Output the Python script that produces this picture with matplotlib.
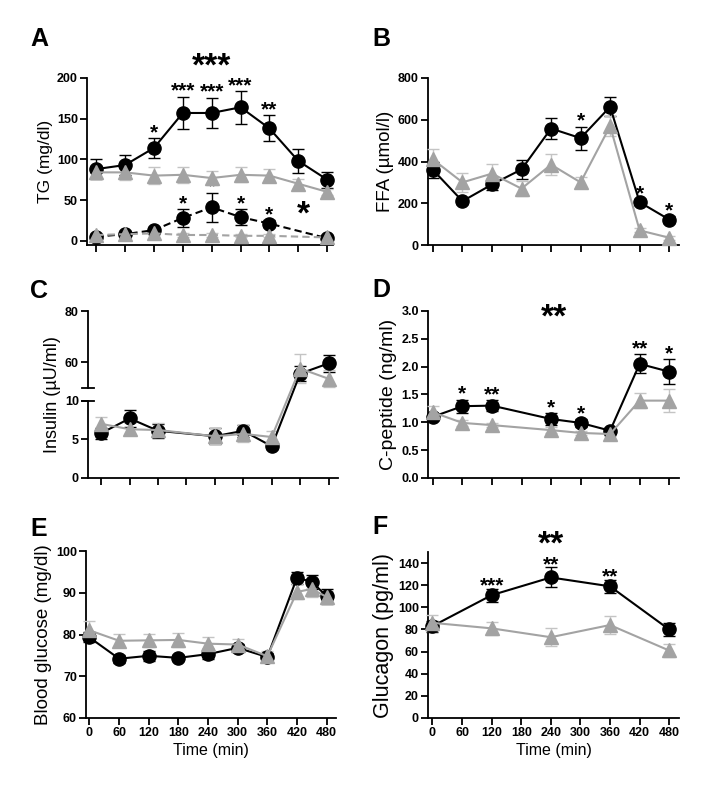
import numpy as np
import matplotlib
matplotlib.use("Agg")
import matplotlib.pyplot as plt

plt.rcParams['font.family'] = ['Liberation Sans', 'DejaVu Sans']

# ---- data ----
# A: TG, solid = total, dashed = second fraction
tg_t = [0, 60, 120, 180, 240, 300, 360, 420, 480]
tg_blk = [88, 93, 114, 157, 157, 164, 138, 98, 75]
tg_blk_err = [12, 12, 12, 20, 19, 20, 16, 15, 10]
tg_gry = [84, 84, 80, 81, 77, 81, 80, 70, 60]
tg_gry_err = [8, 10, 10, 10, 9, 9, 8, 6, 4]
tgd_t = [0, 60, 120, 180, 240, 300, 360, 480]
tgd_blk = [5, 8, 13, 28, 41, 29, 21, 3]
tgd_blk_err = [2, 2, 3, 11, 18, 10, 4, 2]
tgd_gry = [7, 8, 9, 7, 7, 6, 6, 4]
tgd_gry_err = [2, 2, 2, 2, 2, 2, 2, 2]

# B: FFA
ffa_t = [0, 60, 120, 180, 240, 300, 360, 420, 480]
ffa_blk = [360, 210, 290, 362, 558, 512, 662, 205, 122]
ffa_blk_err = [40, 15, 25, 45, 50, 55, 45, 15, 15]
ffa_gry = [410, 300, 342, 270, 385, 300, 570, 70, 35]
ffa_gry_err = [50, 45, 45, 35, 50, 25, 50, 10, 10]

# C: insulin
ins_t = [0, 60, 120, 240, 300, 360, 420, 480]
ins_blk = [5.8, 7.7, 6.1, 5.4, 6.1, 4.1, 55.5, 59.5]
ins_blk_err = [0.7, 1.1, 0.9, 1.0, 0.8, 0.3, 2.8, 3.4]
ins_gry = [7.0, 6.3, 6.2, 5.4, 5.7, 5.3, 57.5, 53.5]
ins_gry_err = [0.9, 0.8, 0.9, 1.0, 1.1, 0.8, 5.5, 3.4]

# D: C-peptide
cp_t = [0, 60, 120, 240, 300, 360, 420, 480]
cp_blk = [1.10, 1.29, 1.30, 1.06, 0.99, 0.85, 2.05, 1.91]
cp_blk_err = [0.05, 0.12, 0.10, 0.10, 0.07, 0.05, 0.17, 0.22]
cp_gry = [1.18, 0.99, 0.95, 0.86, 0.81, 0.79, 1.39, 1.39]
cp_gry_err = [0.12, 0.05, 0.04, 0.05, 0.04, 0.03, 0.13, 0.20]

# E: blood glucose
bg_t = [0, 60, 120, 180, 240, 300, 360, 420, 450, 480]
bg_blk = [79.3, 74.2, 74.9, 74.4, 75.3, 76.8, 74.6, 93.6, 92.6, 89.2]
bg_blk_err = [1.2, 1.0, 1.2, 0.6, 1.2, 1.0, 1.0, 1.4, 1.6, 1.8]
bg_gry = [81.0, 78.5, 78.6, 78.7, 77.8, 77.6, 74.8, 90.2, 90.9, 89.0]
bg_gry_err = [2.2, 1.6, 1.6, 1.7, 1.6, 1.4, 1.2, 1.8, 2.0, 1.5]

# F: glucagon
gl_t = [0, 120, 240, 360, 480]
gl_blk = [83, 111, 127, 119, 80]
gl_blk_err = [5, 6, 9, 6, 6]
gl_gry = [86, 81, 73, 84, 61]
gl_gry_err = [7, 6, 8, 8, 6]

# significance marks above black points: (time, label)
tg_sig = [(120, '*'), (180, '***'), (240, '***'), (300, '***'), (360, '**')]
tgd_sig = [(180, '*'), (240, '*'), (300, '*'), (360, '*')]
ffa_sig = [(300, '*'), (420, '*'), (480, '*')]
cp_sig = [(60, '*'), (120, '**'), (240, '*'), (300, '*'), (420, '**'), (480, '*')]
gl_sig = [(120, '***'), (240, '**'), (360, '**')]

xticks = [0, 60, 120, 180, 240, 300, 360, 420, 480]

BLK = 'black'
GRY = '#a3a3a3'
GRY_ERR = '#c4c4c4'


def series(ax, t, y, err, color, ecolor, marker, ls='-', ms=9.5):
    ax.errorbar(t, y, yerr=err, color=color, ecolor=ecolor, marker=marker, ms=ms,
                ls=ls, lw=1.5, elinewidth=1.0, capsize=4, capthick=1.0,
                mec=color, zorder=3, clip_on=False)


def pair(ax, t, yb, eb, yg, eg, ls='-'):
    series(ax, t, yb, eb, BLK, BLK, 'o', ls)
    series(ax, t, yg, eg, GRY, GRY_ERR, '^', ls, ms=10)


def stars(ax, t, y, err, sig, size=15, off=-3):
    for ts, s in sig:
        i = list(t).index(ts)
        ax.annotate(s, xy=(ts, y[i] + err[i]), xytext=(0, off), textcoords='offset points',
                    ha='center', va='bottom', fontsize=size, fontweight='bold')


def style(ax, xlim, ylabel, ysize, labels=False):
    ax.set_xlim(*xlim)
    ax.set_xticks(xticks)
    if labels:
        ax.set_xticklabels([str(v) for v in xticks])
        ax.set_xlabel('Time (min)', fontsize=11.5, labelpad=3)
    else:
        ax.set_xticklabels([])
    ax.set_ylabel(ylabel, fontsize=ysize, labelpad=3)
    for s in ['top', 'right']:
        ax.spines[s].set_visible(False)
    for s in ['left', 'bottom']:
        ax.spines[s].set_linewidth(1.3)
    ax.tick_params(direction='out', length=5, width=1.3, labelsize=9, pad=1.5)
    for lab in ax.get_xticklabels() + ax.get_yticklabels():
        lab.set_fontweight('bold')


W, H = 720, 792
fig = plt.figure(figsize=(7.2, 7.92), dpi=100)


def box(l, r, top, bot):
    return [l / W, 1 - bot / H, (r - l) / W, (bot - top) / H]


axA = fig.add_axes(box(87, 333, 78, 245))
axB = fig.add_axes(box(428, 679, 78, 245))
axC = fig.add_axes(box(88, 338, 311, 478))
axD = fig.add_axes(box(428, 679, 311, 478))
axE = fig.add_axes(box(86, 336, 551, 718))
axF = fig.add_axes(box(428, 679, 552, 718))

# A
pair(axA, tg_t, tg_blk, tg_blk_err, tg_gry, tg_gry_err)
pair(axA, tgd_t, tgd_blk, tgd_blk_err, tgd_gry, tgd_gry_err, ls=(0, (3.5, 2)))
axA.set_ylim(-5.3, 200)
axA.set_yticks([0, 50, 100, 150, 200])
style(axA, (-19, 492), 'TG (mg/dl)', 12.5)
stars(axA, tg_t, tg_blk, tg_blk_err, tg_sig)
stars(axA, tgd_t, tgd_blk, tgd_blk_err, tgd_sig)
axA.text(240, 213, '***', ha='center', va='center', fontsize=24, fontweight='bold')
axA.text(430, 31, '*', ha='center', va='center', fontsize=24, fontweight='bold')

# B
pair(axB, ffa_t, ffa_blk, ffa_blk_err, ffa_gry, ffa_gry_err)
axB.set_ylim(0, 800)
axB.set_yticks([0, 200, 400, 600, 800])
style(axB, (-10, 500), 'FFA (\u00b5mol/l)', 13.5)
stars(axB, ffa_t, ffa_blk, ffa_blk_err, ffa_sig)


# C: broken y axis 0-10 / 50-80
def fwd(y):
    y = np.asarray(y, dtype=float)
    return np.where(y <= 10, y * 23.3,
                    np.where(y <= 50, 233 + (y - 10) * 0.975, 272 + (y - 50) * 7.7))


def inv(v):
    v = np.asarray(v, dtype=float)
    return np.where(v <= 233, v / 23.3,
                    np.where(v <= 272, 10 + (v - 233) / 0.975, 50 + (v - 272) / 7.7))


axC.set_yscale('function', functions=(fwd, inv))
pair(axC, ins_t, ins_blk, ins_blk_err, ins_gry, ins_gry_err)
axC.set_ylim(0, 80)
axC.set_yticks([0, 5, 10, 60, 80])
axC.set_yticklabels(['0', '5', '10', '60', '80'])
style(axC, (-28, 500), 'Insulin (\u00b5U/ml)', 13)
axC.spines['left'].set_visible(False)
ytr = axC.get_yaxis_transform()
for lo, hi in [(0, 10), (50, 80)]:
    axC.plot([0, 0], [lo, hi], color='black', lw=1.3, transform=ytr, clip_on=False)
for yb in [10, 50]:
    axC.plot([-0.025, 0.025], [yb, yb], color='black', lw=1.3, transform=ytr, clip_on=False)

# D
pair(axD, cp_t, cp_blk, cp_blk_err, cp_gry, cp_gry_err)
axD.set_ylim(0, 3.0)
axD.set_yticks(np.arange(0, 3.01, 0.5))
axD.set_yticklabels(['0.0', '0.5', '1.0', '1.5', '2.0', '2.5', '3.0'])
style(axD, (-10, 500), 'C-peptide (ng/ml)', 14)
stars(axD, cp_t, cp_blk, cp_blk_err, cp_sig)
axD.text(245, 2.88, '**', ha='center', va='center', fontsize=24, fontweight='bold')

# E
pair(axE, bg_t, bg_blk, bg_blk_err, bg_gry, bg_gry_err)
axE.set_ylim(60, 100)
axE.set_yticks([60, 70, 80, 90, 100])
style(axE, (-7, 499), 'Blood glucose (mg/dl)', 13.5, labels=True)

# F
pair(axF, gl_t, gl_blk, gl_blk_err, gl_gry, gl_gry_err)
axF.set_ylim(0, 150)
axF.set_yticks(np.arange(0, 141, 20))
style(axF, (-9, 500), 'Glucagon (pg/ml)', 15.5, labels=True)
stars(axF, gl_t, gl_blk, gl_blk_err, gl_sig, off=-5)
axF.text(240, 156, '**', ha='center', va='center', fontsize=24, fontweight='bold')

for letter, x, y in [('A', 30, 39), ('B', 372, 39), ('C', 30, 291),
                     ('D', 372, 290), ('E', 30, 529), ('F', 372, 527)]:
    fig.text(x / W, 1 - y / H, letter, fontsize=18, fontweight='bold', va='center', ha='left')

fig.savefig('out.png', dpi=100)
